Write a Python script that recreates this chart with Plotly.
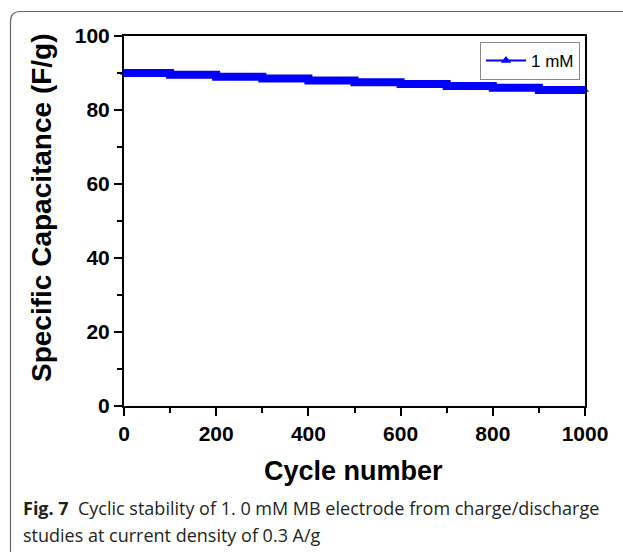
import plotly.graph_objects as go

# Data: step values per 100-cycle block
cycle_starts = [0, 100, 200, 300, 400, 500, 600, 700, 800, 900, 1000]
capacitance = [90.0, 89.5, 89.0, 88.5, 88.0, 87.5, 87.0, 86.5, 86.0, 85.4, 85.4]
series_name = "1 mM"
x_ticks = [0, 200, 400, 600, 800, 1000]
y_ticks = [0, 20, 40, 60, 80, 100]

W, H = 623, 552
L, R, T, B = 124, 585, 36, 406
PW, PH = R - L, B - T


def px(x):
    return (x - L) / PW


def py(y):
    return (B - y) / PH


fig = go.Figure()
fig.add_trace(go.Scatter(
    x=cycle_starts, y=capacitance, mode="lines+markers",
    line=dict(color="#0000FF", width=8, shape="hv"),
    marker=dict(symbol="triangle-up", size=7, color="#0000FF"),
    showlegend=False, cliponaxis=False,
))
fig.add_trace(go.Scatter(
    x=[None], y=[None], mode="lines+markers", name=series_name,
    line=dict(color="#0000FF", width=2),
    marker=dict(symbol="triangle-up", size=9, color="#0000FF"),
))

axis_common = dict(
    showline=True, linecolor="black", linewidth=2, mirror=True,
    ticks="outside", ticklen=8, tickwidth=2, tickcolor="black",
    showgrid=False, zeroline=False,
    tickfont=dict(family="Liberation Sans, Arial", size=21, color="black", weight="bold"),
)

fig.update_xaxes(range=[0, 1000], tickvals=x_ticks,
                 minor=dict(ticks="outside", ticklen=5, tickwidth=2, dtick=100, tickcolor="black", showgrid=False),
                 **axis_common)
fig.update_yaxes(range=[0, 100], tickvals=y_ticks,
                 minor=dict(ticks="outside", ticklen=5, tickwidth=2, dtick=10, tickcolor="black", showgrid=False),
                 **axis_common)

# rounded frame around the whole figure
fx0, fy0, fx1, fy1, r = 10.5, 11.5, 640, 562, 10
path = (f"M {px(fx0)},{py(fy0 + r)} "
        f"Q {px(fx0)},{py(fy0)} {px(fx0 + r)},{py(fy0)} "
        f"L {px(fx1 - r)},{py(fy0)} "
        f"Q {px(fx1)},{py(fy0)} {px(fx1)},{py(fy0 + r)} "
        f"L {px(fx1)},{py(fy1 - r)} "
        f"Q {px(fx1)},{py(fy1)} {px(fx1 - r)},{py(fy1)} "
        f"L {px(fx0 + r)},{py(fy1)} "
        f"Q {px(fx0)},{py(fy1)} {px(fx0)},{py(fy1 - r)} Z")
fig.add_shape(type="path", path=path, xref="paper", yref="paper",
              line=dict(color="#666666", width=1.2), layer="below")

title_font = dict(family="Liberation Sans, Arial", size=27, color="black", weight="bold")
fig.add_annotation(text="Cycle number", xref="paper", yref="paper",
                   x=px(353), y=py(471), showarrow=False, font=title_font,
                   xanchor="center", yanchor="middle")
fig.add_annotation(text="Specific Capacitance (F/g)", xref="paper", yref="paper",
                   x=px(41), y=py(208), showarrow=False,
                   font=dict(family="Liberation Sans, Arial", size=28, color="black", weight="bold"),
                   textangle=-90, xanchor="center", yanchor="middle")

cap_font = dict(family="Open Sans", size=18, color="#231f20")
fig.add_annotation(text="<b>Fig. 7</b>  Cyclic stability of 1. 0 mM MB electrode from charge/discharge",
                   xref="paper", yref="paper", x=px(21), y=py(508), showarrow=False,
                   font=cap_font, xanchor="left", yanchor="middle")
fig.add_annotation(text="studies at current density of 0.3 A/g",
                   xref="paper", yref="paper", x=px(21), y=py(535), showarrow=False,
                   font=cap_font, xanchor="left", yanchor="middle")

fig.update_layout(
    width=W, height=H,
    margin=dict(l=L, r=W - R, t=T, b=H - B),
    paper_bgcolor="white", plot_bgcolor="white",
    legend=dict(x=px(580), y=py(42), xanchor="right", yanchor="top",
                bordercolor="#888888", borderwidth=1, bgcolor="white",
                font=dict(family="Liberation Sans, Arial", size=17, color="black"),
                itemwidth=40, tracegroupgap=0),
)

fig.write_html("out.html")
